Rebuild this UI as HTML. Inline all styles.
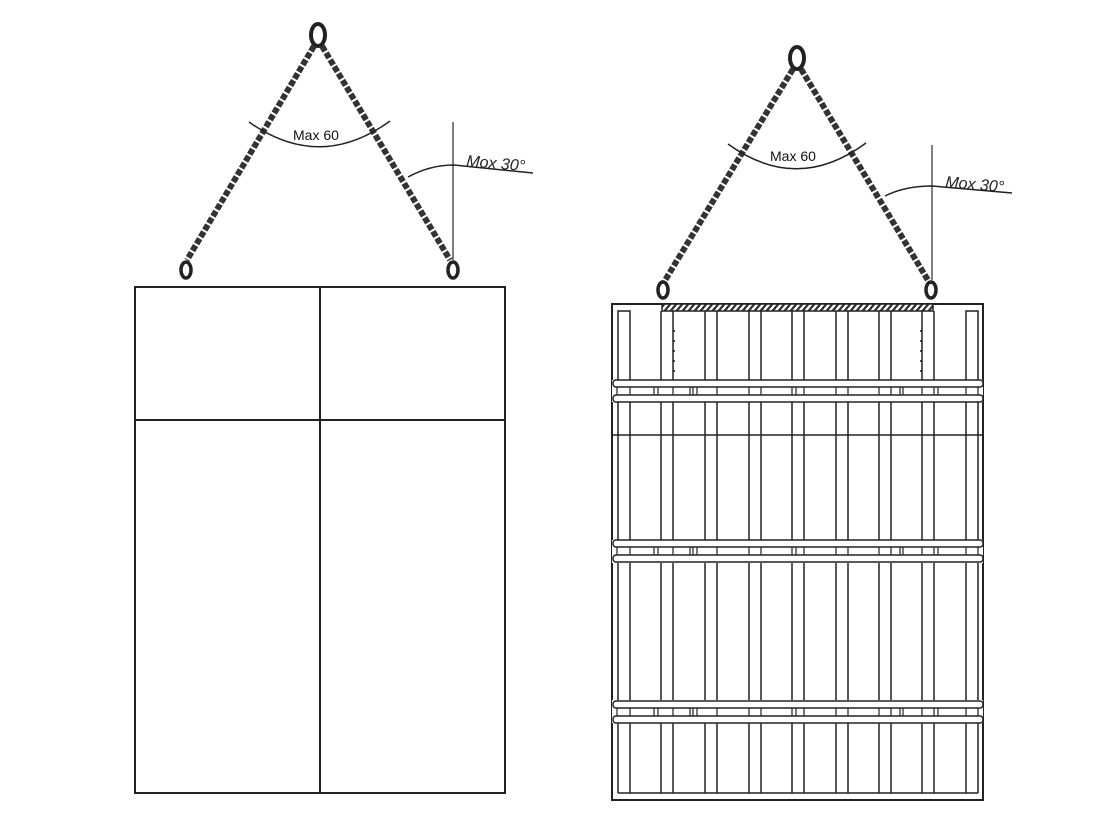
<!DOCTYPE html>
<html><head><meta charset="utf-8"><style>body{margin:0;background:#fff}svg{display:block}</style></head>
<body>
<svg width="1096" height="820" viewBox="0 0 1096 820" xmlns="http://www.w3.org/2000/svg" font-family="Liberation Sans, sans-serif">
<defs>
<pattern id="hat" width="6" height="8" patternUnits="userSpaceOnUse" patternTransform="skewX(-40)"><rect width="6" height="8" fill="#fff"/><rect width="3" height="8" fill="#333"/></pattern>
<g id="band" fill="none" stroke="#222" stroke-width="1.5">
<rect x="613" y="0" width="370" height="7" rx="3"/>
<rect x="613" y="15" width="370" height="7" rx="3"/>
<line x1="613" y1="11" x2="983" y2="11" stroke-width="0"/>
<g stroke-width="1.2"><path d="M617 7v8M630 7v8M654 7v8M658 7v8M673 7v8M690 7v8M693 7v8M697 7v8M717 7v8M749 7v8M761 7v8M792 7v8M796 7v8M804 7v8M836 7v8M848 7v8M879 7v8M891 7v8M900 7v8M903 7v8M922 7v8M934 7v8M938 7v8M966 7v8M978 7v8"/></g>
</g>
</defs>

<!-- LEFT -->
<g fill="none" stroke="#222">
<rect x="135" y="287" width="370" height="506" stroke-width="2"/>
<line x1="320" y1="287" x2="320" y2="793" stroke-width="2"/>
<line x1="135" y1="420" x2="505" y2="420" stroke-width="2"/>
<ellipse cx="318" cy="35" rx="7" ry="11" stroke-width="4"/>
<line x1="314" y1="46" x2="187" y2="260" stroke-width="6" stroke="#333" stroke-dasharray="6 2"/>
<line x1="322" y1="46" x2="450" y2="260" stroke-width="6" stroke="#333" stroke-dasharray="6 2"/>
<ellipse cx="186" cy="270" rx="5" ry="8" stroke-width="3.5"/>
<ellipse cx="453" cy="270" rx="5" ry="8" stroke-width="3.5"/>
<path d="M249 122 Q320 172 390 121" stroke-width="1.5"/>
<line x1="453" y1="122" x2="453" y2="260" stroke-width="1.5" stroke="#555"/>
<path d="M408 177 Q430 165 454 165 L533 173" stroke-width="1.5"/>
</g>
<text x="293" y="140" font-size="14" fill="#111">Max 60</text>
<text x="466" y="166" font-size="16" fill="#222" font-style="italic" transform="rotate(5 466 166)">Mox 30°</text>

<!-- RIGHT -->
<g fill="none" stroke="#222">
<ellipse cx="797" cy="58" rx="7" ry="11" stroke-width="4"/>
<line x1="793" y1="69" x2="664" y2="282" stroke-width="6" stroke="#333" stroke-dasharray="6 2"/>
<line x1="801" y1="69" x2="929" y2="282" stroke-width="6" stroke="#333" stroke-dasharray="6 2"/>
<ellipse cx="663" cy="290" rx="5" ry="8" stroke-width="3.5"/>
<ellipse cx="931" cy="290" rx="5" ry="8" stroke-width="3.5"/>
<path d="M728 144 Q797 194 866 143" stroke-width="1.5"/>
<line x1="932" y1="145" x2="932" y2="280" stroke-width="1.5" stroke="#555"/>
<path d="M885 196 Q905 186 932 186 L1012 193" stroke-width="1.5"/>

<rect x="612" y="304" width="371" height="496" stroke-width="2"/>
<rect x="662" y="304" width="271" height="7" fill="url(#hat)" stroke-width="1.5"/>
<line x1="618" y1="793" x2="978" y2="793" stroke-width="1.5"/>
<g stroke-width="1.5">
<path d="M618 793V311h12v482M966 793V311h12v482"/>
<path d="M661 311V793M673 311V793M705 311V793M717 311V793M749 311V793M761 311V793M792 311V793M804 311V793M836 311V793M848 311V793M879 311V793M891 311V793M922 311V793M934 311V793"/>
<path d="M612 435H983" stroke-width="1.5"/>
<path d="M674 330v50M921 330v50" stroke-dasharray="2 8"/>
</g>
</g>
<g fill="#fff"><rect x="612" y="380" width="371" height="22"/><rect x="612" y="540" width="371" height="23"/><rect x="612" y="700" width="371" height="23"/></g>
<use href="#band" y="380"/>
<use href="#band" y="540"/>
<use href="#band" y="701"/>
<text x="770" y="161" font-size="14" fill="#111">Max 60</text>
<text x="945" y="187" font-size="16" fill="#222" font-style="italic" transform="rotate(5 945 187)">Mox 30°</text>
</svg>
</body></html>
